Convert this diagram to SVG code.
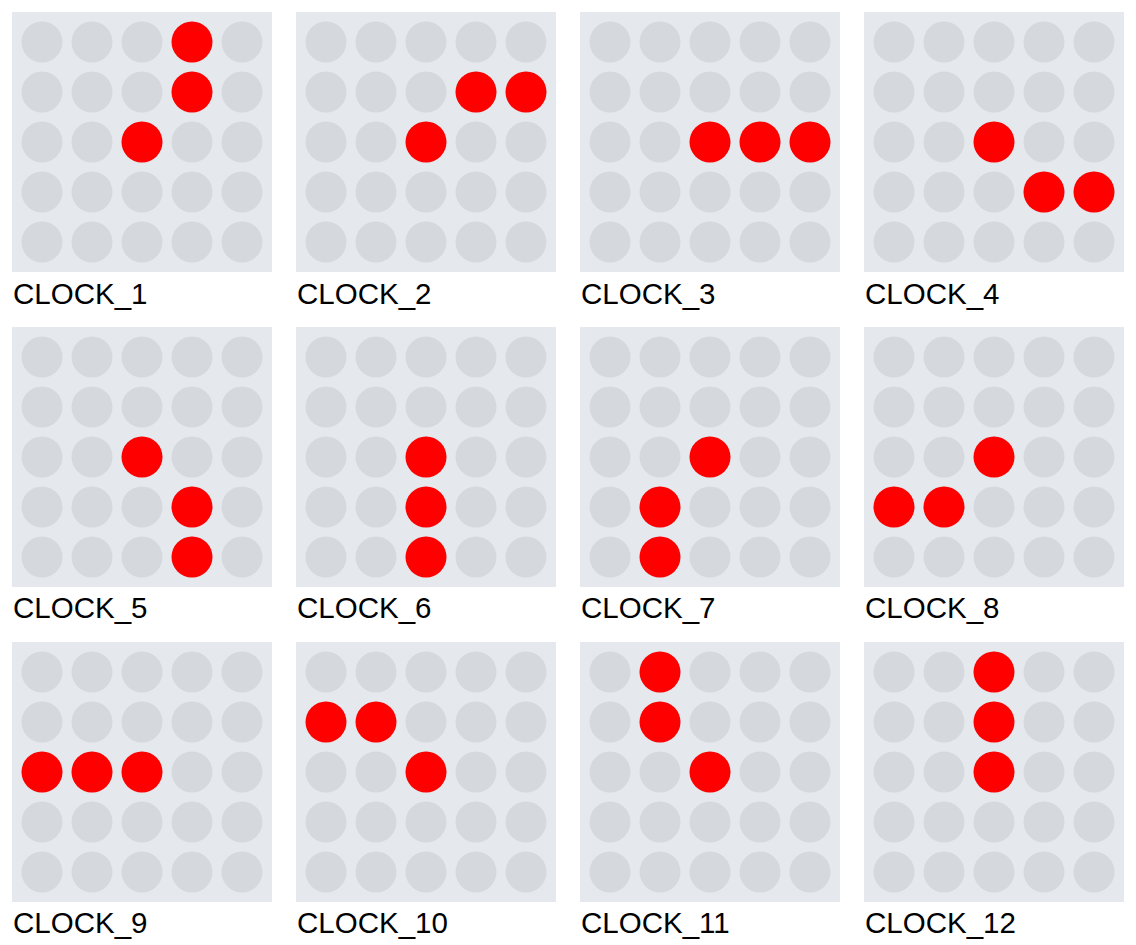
<svg xmlns="http://www.w3.org/2000/svg" xmlns:xlink="http://www.w3.org/1999/xlink" width="1136" height="945" viewBox="0 0 1136 945">
<style>
.bg{fill:#e5e8ed}
.off{fill:#d5d8dd}
.on{fill:#ff0000}
.lbl{font-family:"Liberation Sans",Arial,sans-serif;font-size:29.5px;fill:#000}
</style>
<defs>
<g id="grid">
<rect class="bg" x="0" y="0" width="260" height="260"/>
<g class="off">
<circle cx="30" cy="30" r="20.5"/><circle cx="80" cy="30" r="20.5"/><circle cx="130" cy="30" r="20.5"/><circle cx="180" cy="30" r="20.5"/><circle cx="230" cy="30" r="20.5"/>
<circle cx="30" cy="80" r="20.5"/><circle cx="80" cy="80" r="20.5"/><circle cx="130" cy="80" r="20.5"/><circle cx="180" cy="80" r="20.5"/><circle cx="230" cy="80" r="20.5"/>
<circle cx="30" cy="130" r="20.5"/><circle cx="80" cy="130" r="20.5"/><circle cx="130" cy="130" r="20.5"/><circle cx="180" cy="130" r="20.5"/><circle cx="230" cy="130" r="20.5"/>
<circle cx="30" cy="180" r="20.5"/><circle cx="80" cy="180" r="20.5"/><circle cx="130" cy="180" r="20.5"/><circle cx="180" cy="180" r="20.5"/><circle cx="230" cy="180" r="20.5"/>
<circle cx="30" cy="230" r="20.5"/><circle cx="80" cy="230" r="20.5"/><circle cx="130" cy="230" r="20.5"/><circle cx="180" cy="230" r="20.5"/><circle cx="230" cy="230" r="20.5"/>
</g>
</g>
</defs>
<rect x="0" y="0" width="1136" height="945" fill="#ffffff"/>

<g id="clock1" transform="translate(12,12)">
<use xlink:href="#grid" href="#grid"/>
<circle class="on" cx="180" cy="30" r="20.5"/><circle class="on" cx="180" cy="80" r="20.5"/><circle class="on" cx="130" cy="130" r="20.5"/>
<text class="lbl" x="1" y="292">CLOCK_1</text>
</g>
<g id="clock2" transform="translate(296,12)">
<use xlink:href="#grid" href="#grid"/>
<circle class="on" cx="180" cy="80" r="20.5"/><circle class="on" cx="230" cy="80" r="20.5"/><circle class="on" cx="130" cy="130" r="20.5"/>
<text class="lbl" x="1" y="292">CLOCK_2</text>
</g>
<g id="clock3" transform="translate(580,12)">
<use xlink:href="#grid" href="#grid"/>
<circle class="on" cx="130" cy="130" r="20.5"/><circle class="on" cx="180" cy="130" r="20.5"/><circle class="on" cx="230" cy="130" r="20.5"/>
<text class="lbl" x="1" y="292">CLOCK_3</text>
</g>
<g id="clock4" transform="translate(864,12)">
<use xlink:href="#grid" href="#grid"/>
<circle class="on" cx="130" cy="130" r="20.5"/><circle class="on" cx="180" cy="180" r="20.5"/><circle class="on" cx="230" cy="180" r="20.5"/>
<text class="lbl" x="1" y="292">CLOCK_4</text>
</g>

<g id="clock5" transform="translate(12,327)">
<use xlink:href="#grid" href="#grid"/>
<circle class="on" cx="130" cy="130" r="20.5"/><circle class="on" cx="180" cy="180" r="20.5"/><circle class="on" cx="180" cy="230" r="20.5"/>
<text class="lbl" x="1" y="291">CLOCK_5</text>
</g>
<g id="clock6" transform="translate(296,327)">
<use xlink:href="#grid" href="#grid"/>
<circle class="on" cx="130" cy="130" r="20.5"/><circle class="on" cx="130" cy="180" r="20.5"/><circle class="on" cx="130" cy="230" r="20.5"/>
<text class="lbl" x="1" y="291">CLOCK_6</text>
</g>
<g id="clock7" transform="translate(580,327)">
<use xlink:href="#grid" href="#grid"/>
<circle class="on" cx="130" cy="130" r="20.5"/><circle class="on" cx="80" cy="180" r="20.5"/><circle class="on" cx="80" cy="230" r="20.5"/>
<text class="lbl" x="1" y="291">CLOCK_7</text>
</g>
<g id="clock8" transform="translate(864,327)">
<use xlink:href="#grid" href="#grid"/>
<circle class="on" cx="130" cy="130" r="20.5"/><circle class="on" cx="30" cy="180" r="20.5"/><circle class="on" cx="80" cy="180" r="20.5"/>
<text class="lbl" x="1" y="291">CLOCK_8</text>
</g>

<g id="clock9" transform="translate(12,642)">
<use xlink:href="#grid" href="#grid"/>
<circle class="on" cx="30" cy="130" r="20.5"/><circle class="on" cx="80" cy="130" r="20.5"/><circle class="on" cx="130" cy="130" r="20.5"/>
<text class="lbl" x="1" y="291">CLOCK_9</text>
</g>
<g id="clock10" transform="translate(296,642)">
<use xlink:href="#grid" href="#grid"/>
<circle class="on" cx="30" cy="80" r="20.5"/><circle class="on" cx="80" cy="80" r="20.5"/><circle class="on" cx="130" cy="130" r="20.5"/>
<text class="lbl" x="1" y="291">CLOCK_10</text>
</g>
<g id="clock11" transform="translate(580,642)">
<use xlink:href="#grid" href="#grid"/>
<circle class="on" cx="80" cy="30" r="20.5"/><circle class="on" cx="80" cy="80" r="20.5"/><circle class="on" cx="130" cy="130" r="20.5"/>
<text class="lbl" x="1" y="291">CLOCK_11</text>
</g>
<g id="clock12" transform="translate(864,642)">
<use xlink:href="#grid" href="#grid"/>
<circle class="on" cx="130" cy="30" r="20.5"/><circle class="on" cx="130" cy="80" r="20.5"/><circle class="on" cx="130" cy="130" r="20.5"/>
<text class="lbl" x="1" y="291">CLOCK_12</text>
</g>
</svg>
